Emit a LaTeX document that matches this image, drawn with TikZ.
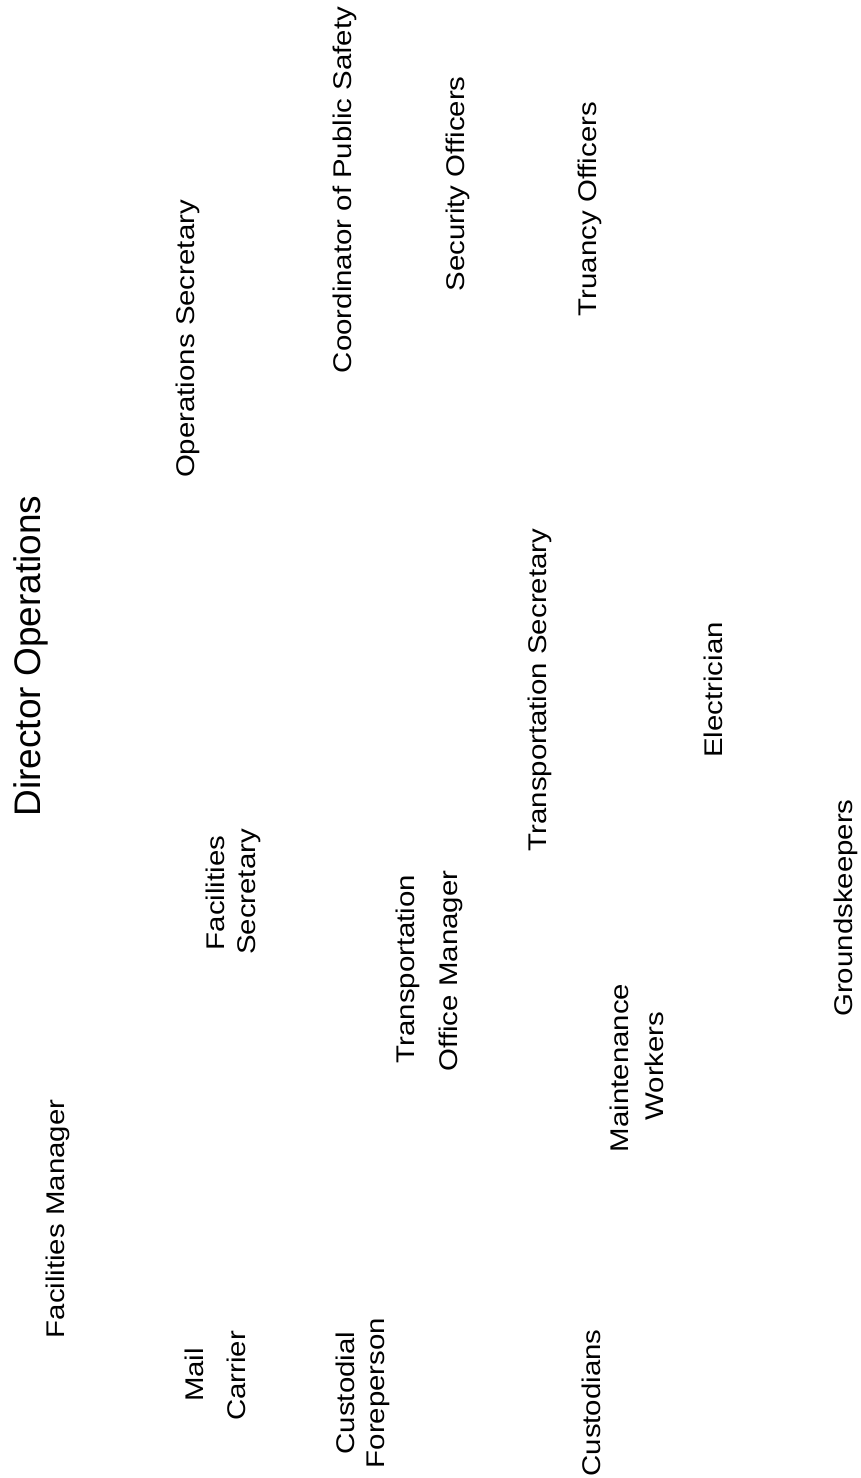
\documentclass[tikz,border=0pt]{standalone}
\usepackage{fontspec}
\usepackage{graphicx}
\setmainfont{Liberation Sans}
\newcommand\sqz[1]{\scalebox{1}[0.87]{#1}}
\tikzset{
  lbl/.style={rotate=90, anchor=base, inner sep=0pt, font=\fontsize{29.4}{34}\selectfont},
  toplbl/.style={rotate=90, anchor=base, inner sep=0pt, font=\fontsize{37}{42}\selectfont}
}
\begin{document}
\begin{tikzpicture}[x=1pt,y=-1pt]
\useasboundingbox[fill=white] (0,0) rectangle (860,1478);
\node[toplbl] (dir) at (40,656) {Director Operations};
\node[lbl] (opsec) at (194,339) {\sqz{Operations Secretary}};
\node[lbl] (coord) at (351,190) {\sqz{Coordinator of Public Safety}};
\node[lbl] (secoff) at (464,184) {\sqz{Security Officers}};
\node[lbl] (truoff) at (596,209) {\sqz{Truancy Officers}};
\node[lbl] (transsec) at (546,690) {\sqz{Transportation Secretary}};
\node[lbl] (elec) at (722,690) {\sqz{Electrician}};
\node[lbl] (ground) at (852,908) {\sqz{Groundskeepers}};
\node[lbl] (facmgr) at (64,1219) {\sqz{Facilities Manager}};
\node[lbl] (mailA) at (203,1375) {\sqz{Mail}};
\node[lbl] (mailB) at (245,1376) {\sqz{Carrier}};
\node[lbl] (custfA) at (354,1393) {\sqz{Custodial}};
\node[lbl] (custfB) at (384,1393) {\sqz{Foreperson}};
\node[lbl] (facsecA) at (224,893) {\sqz{Facilities}};
\node[lbl] (facsecB) at (255,892) {\sqz{Secretary}};
\node[lbl] (tromA) at (414,969) {\sqz{Transportation}};
\node[lbl] (tromB) at (457,971) {\sqz{Office Manager}};
\node[lbl] (maintA) at (628,1068) {\sqz{Maintenance}};
\node[lbl] (maintB) at (663,1066) {\sqz{Workers}};
\node[lbl] (custod) at (600,1403) {\sqz{Custodians}};
\end{tikzpicture}
\end{document}
